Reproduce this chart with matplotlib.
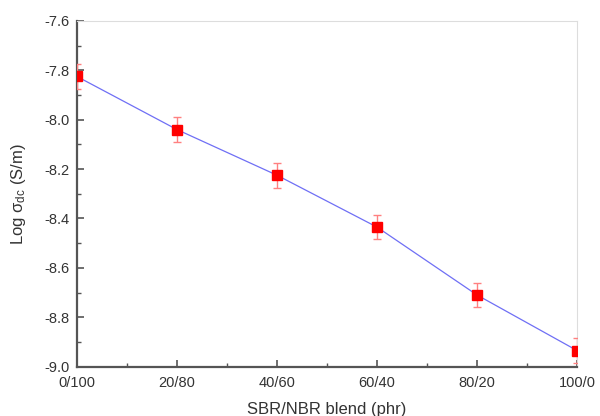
import matplotlib
matplotlib.use("Agg")
import matplotlib.pyplot as plt
from matplotlib.ticker import MultipleLocator

plt.rcParams['font.family'] = ['Liberation Sans', 'DejaVu Sans']

blend = [0, 20, 40, 60, 80, 100]
tick_labels = ['0/100', '20/80', '40/60', '60/40', '80/20', '100/0']
log_sigma = [-7.825, -8.04, -8.225, -8.435, -8.71, -8.935]
err = [0.05, 0.05, 0.05, 0.05, 0.05, 0.05]

fig = plt.figure(figsize=(6.0, 4.16), dpi=100)
ax = fig.add_axes([0.128, 0.1185, 0.834, 0.8315])

ax.plot(blend, log_sigma, color='#6f6ff5', lw=0.9, zorder=2)
ax.errorbar(blend, log_sigma, yerr=err, fmt='none', ecolor='#ff8080',
            elinewidth=1.0, capsize=3, capthick=1.0, zorder=3)
ax.plot(blend, log_sigma, 's', color='#ff0000', ms=7, zorder=4)

ax.set_xlim(0, 100)
ax.set_ylim(-9.0, -7.6)
ax.set_xticks(blend)
ax.set_xticklabels(tick_labels)
ax.xaxis.set_minor_locator(MultipleLocator(10))
ax.yaxis.set_major_locator(MultipleLocator(0.2))
ax.yaxis.set_minor_locator(MultipleLocator(0.1))
ax.yaxis.set_major_formatter(matplotlib.ticker.FormatStrFormatter('%.1f'))

for s in ['left', 'bottom']:
    ax.spines[s].set_color('#555555')
    ax.spines[s].set_linewidth(1.6)
for s in ['top', 'right']:
    ax.spines[s].set_color('#dddddd')
    ax.spines[s].set_linewidth(0.8)

ax.tick_params(which='major', direction='in', length=5, width=1.2, color='#555555',
               labelsize=10.5, labelcolor='#333333', top=False, right=False)
ax.tick_params(which='minor', direction='in', length=3, width=1.0, color='#555555',
               top=False, right=False)
ax.tick_params(axis='x', pad=7)
ax.tick_params(axis='y', pad=5)

ax.set_xlabel('SBR/NBR blend (phr)', fontsize=12, color='#333333', labelpad=8)
ax.set_ylabel(r'Log $\mathregular{σ_{dc}}$ (S/m)', fontsize=12, color='#333333', labelpad=12)

fig.savefig('out.png', dpi=100)
